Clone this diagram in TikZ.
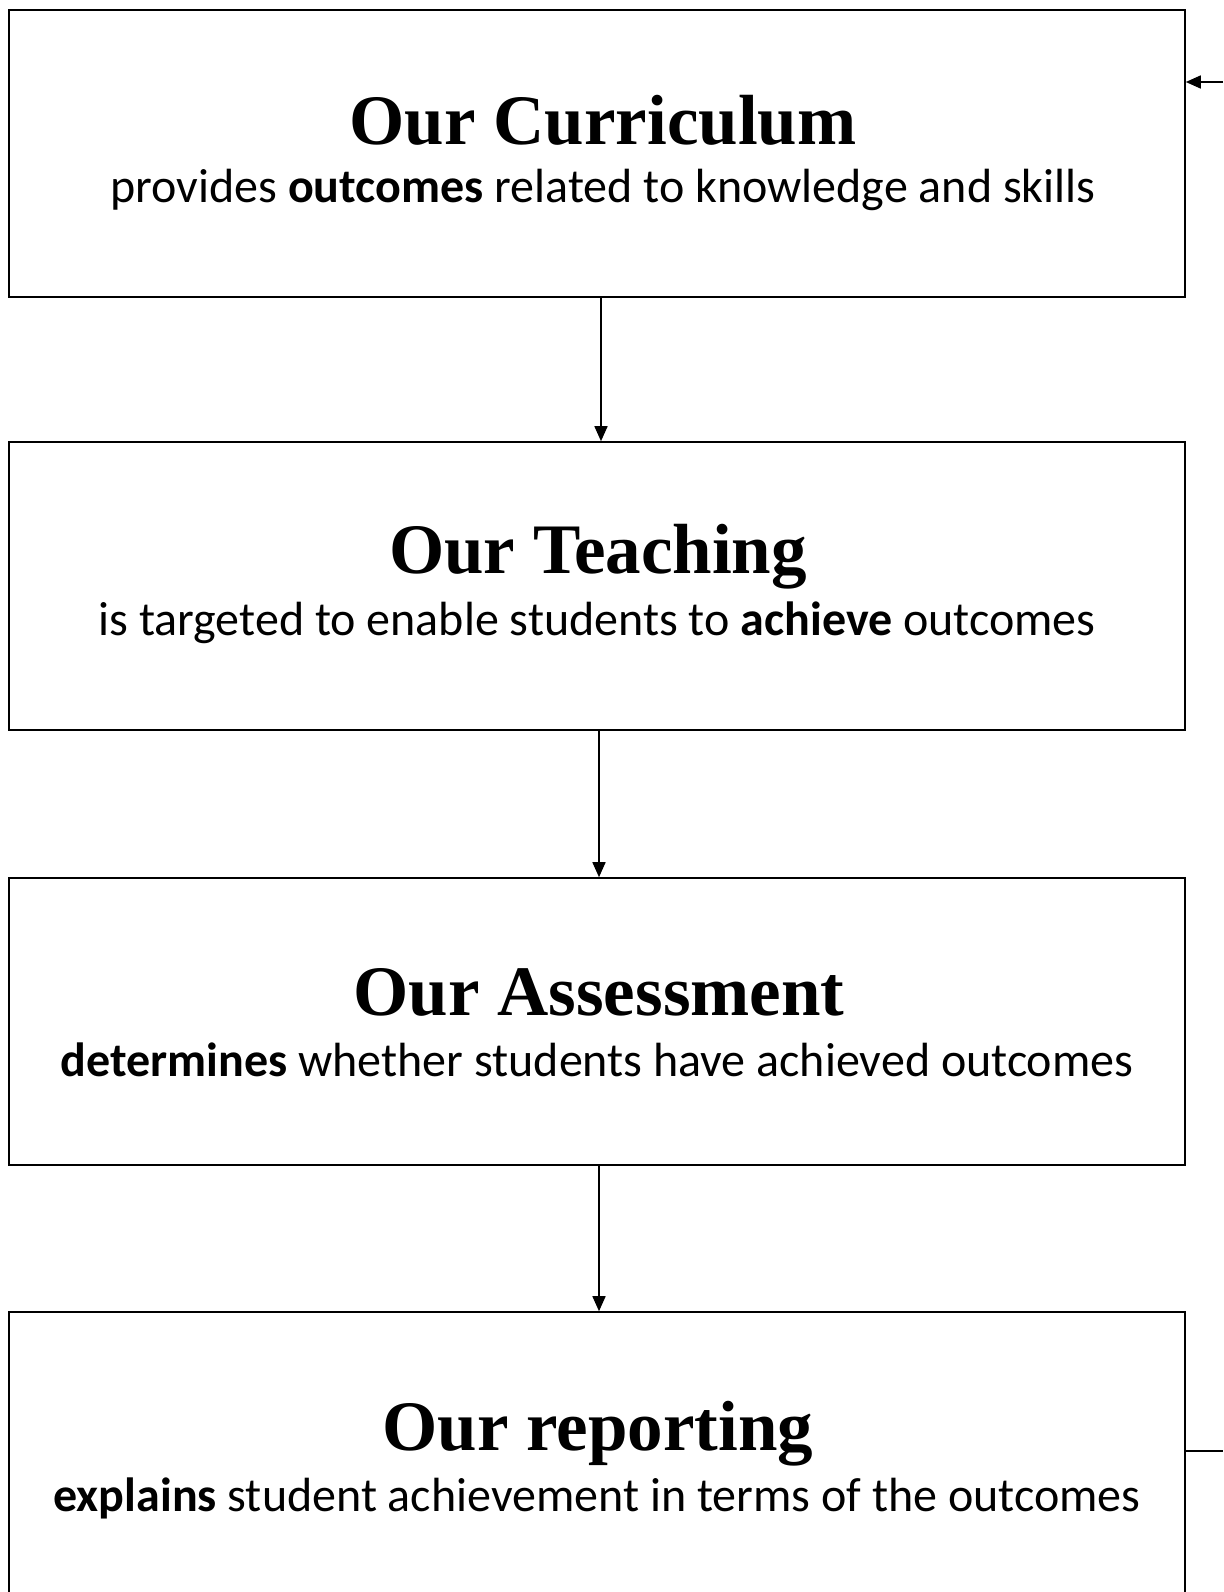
\documentclass[tikz,border=0pt]{standalone}
\usepackage{fontspec}
\setmainfont{Carlito}
\newfontfamily\titlefont{Liberation Serif}
\usetikzlibrary{arrows.meta}
\begin{document}
\begin{tikzpicture}[x=1pt,y=-1pt,
  box/.style={draw, line width=1.6pt, minimum width=1176pt, inner sep=0pt},
  ttl/.style={anchor=base, inner sep=0pt, font=\titlefont\bfseries\fontsize{71}{80}\selectfont},
  txt/.style={anchor=base, inner sep=0pt, font=\fontsize{48}{56}\selectfont},
  conn/.style={line width=1.6pt, -{Triangle[length=15pt,width=13pt]}},
  plain/.style={line width=1.6pt}]
\useasboundingbox (0,0) rectangle (1223,1592);
\clip (0,0) rectangle (1223,1592);
\node[box, minimum height=287pt] (b1) at (597,153.5) {};
\node[box, minimum height=288pt] (b2) at (597,586) {};
\node[box, minimum height=287pt] (b3) at (597,1021.5) {};
\node[box, minimum height=320pt] (b4) at (597,1472) {};
\node[ttl] (t1) at (603,144) {Our Curriculum};
\node[txt] (s1) at (603,202) {provides \textbf{outcomes} related to knowledge and skills};
\node[ttl] (t2) at (598,573) {Our Teaching};
\node[txt] (s2) at (597,635) {is targeted to enable students to \textbf{achieve} outcomes};
\node[ttl] (t3) at (599,1015) {Our Assessment};
\node[txt] (s3) at (597,1076) {\textbf{determines} whether students have achieved outcomes};
\node[ttl] (t4) at (598,1450) {Our reporting};
\node[txt] (s4) at (597,1511) {\textbf{explains} student achievement in terms of the outcomes};
\draw[conn] ([xshift=4pt]b1.south) -- ([xshift=4pt]b2.north);
\draw[conn] ([xshift=2pt]b2.south) -- ([xshift=2pt]b3.north);
\draw[conn] ([xshift=2pt]b3.south) -- ([xshift=2pt]b4.north);
\coordinate (r1) at (1223,82);
\coordinate (r4) at (1223,1451);
\draw[conn] (r1) -- (b1.east |- r1);
\draw[plain] (b4.east |- r4) -- (r4);
\end{tikzpicture}
\end{document}
